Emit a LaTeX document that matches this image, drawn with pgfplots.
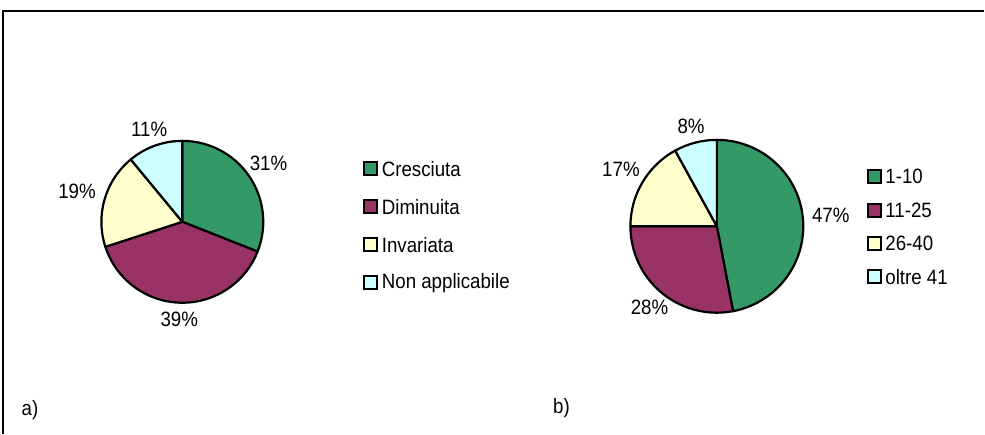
\documentclass[border=0pt]{standalone}
\usepackage{graphicx}
\usepackage{pgfplots}
\pgfplotsset{compat=1.18}
\usepackage{pgfplotstable}
\usepackage{fontspec}
\setmainfont{Liberation Sans}

\definecolor{cgreen}{HTML}{339966}
\definecolor{cpurple}{HTML}{993366}
\definecolor{cyellow}{HTML}{FFFFCC}
\definecolor{ccyan}{HTML}{CCFFFF}

% slice shares (percent)
\pgfplotstableread{
label value color
Cresciuta 31 cgreen
Diminuita 39 cpurple
Invariata 19 cyellow
{Non applicabile} 11 ccyan
}\pieA
\pgfplotstableread{
label value color
1-10 47 cgreen
11-25 28 cpurple
26-40 17 cyellow
{oltre 41} 8 ccyan
}\pieB

\newcommand{\lbl}[1]{{\fontsize{20.8}{24}\selectfont\scalebox{0.9}[1]{#1}}}

% #1 table, #2 cx, #3 cy, #4 radius, #5 legend x, #6 legend first y, #7 legend step
\newcommand{\drawpie}[7]{%
  \pgfplotstablegetrowsof{#1}%
  \pgfmathtruncatemacro{\nrows}{\pgfplotsretval-1}%
  \def\startang{90}%
  \pgfplotsforeachungrouped \i in {0,...,\nrows}{%
    \pgfplotstablegetelem{\i}{value}\of{#1}\let\val\pgfplotsretval
    \pgfplotstablegetelem{\i}{color}\of{#1}\let\col\pgfplotsretval
    \pgfplotstablegetelem{\i}{label}\of{#1}\let\lab\pgfplotsretval
    \pgfmathsetmacro{\endang}{\startang-3.6*\val}%
    \pgfmathsetmacro{\midang}{(\startang+\endang)/2}%
    \pgfmathtruncatemacro{\ancang}{\midang+180}%
    \pgfmathsetmacro{\lr}{#4+8}%
    \pgfmathsetmacro{\legy}{#6-\i*#7}%
    \pgfmathsetmacro{\sqa}{#5-6.5}\pgfmathsetmacro{\sqb}{#5+6.5}%
    \pgfmathsetmacro{\sqc}{\legy-6.5}\pgfmathsetmacro{\sqd}{\legy+6.5}%
    \pgfmathsetmacro{\tx}{#5+11}%
    \edef\temp{%
      \noexpand\filldraw[fill=\col, draw=black, line width=2.2pt, line join=round]
        (axis cs:#2,#3) -- ++(\startang:#4pt)
        arc[start angle=\startang, end angle=\endang, radius=#4pt] -- cycle;
      \noexpand\path (axis cs:#2,#3) ++(\midang:\lr pt)
        node[anchor=\ancang, inner sep=1pt] {\noexpand\lbl{\val\noexpand\%}};
      \noexpand\filldraw[fill=\col, draw=black, line width=2pt]
        (axis cs:\sqa,\sqc) rectangle (axis cs:\sqb,\sqd);
      \noexpand\node[anchor=west, inner sep=0pt] at (axis cs:\tx,\legy) {\noexpand\lbl{\lab}};
    }\temp
    \let\startang\endang
  }%
}

\begin{document}
\begin{tikzpicture}
\begin{axis}[
  width=985pt, height=434pt, scale only axis,
  xmin=0, xmax=985, ymin=0, ymax=434,
  hide axis, clip=false]
  \path (axis cs:0,0) rectangle (axis cs:985,434);
  \draw[line width=1.8pt] (axis cs:985,423) -- (axis cs:3,423) -- (axis cs:3,0);

  \drawpie{\pieA}{182.5}{212}{81}{371}{265}{38}
  \drawpie{\pieB}{717.5}{207.5}{86.5}{875}{257}{33.3}

  \node at (axis cs:30,24) {\lbl{a)}};
  \node at (axis cs:562,26) {\lbl{b)}};
\end{axis}
\end{tikzpicture}
\end{document}
